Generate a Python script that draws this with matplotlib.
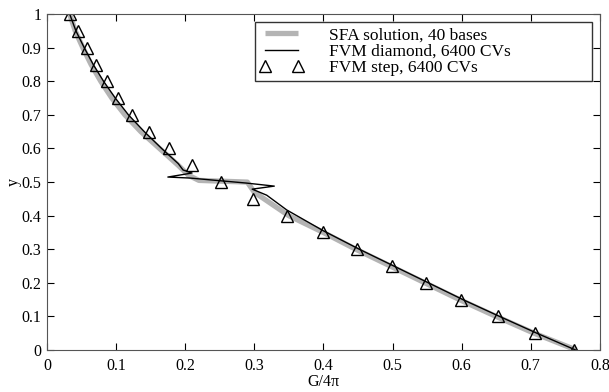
import matplotlib
matplotlib.use("Agg")
import matplotlib.pyplot as plt

plt.rcParams['font.family'] = ['Liberation Serif', 'DejaVu Serif']

# SFA solution, 40 bases (smooth reference)
sfa_x = [0.033, 0.041, 0.052, 0.064, 0.078, 0.094, 0.113, 0.136, 0.163, 0.190, 0.205, 0.220,
         0.290, 0.300, 0.350, 0.400, 0.447, 0.497, 0.547, 0.597, 0.650, 0.705, 0.766]
sfa_y = [1.00, 0.95, 0.90, 0.85, 0.80, 0.75, 0.70, 0.65, 0.60, 0.55, 0.52, 0.505,
         0.500, 0.47, 0.40, 0.35, 0.30, 0.25, 0.20, 0.15, 0.10, 0.05, 0.00]

# FVM diamond, 6400 CVs (with overshoot near y = 0.5)
dia_x = [0.033, 0.042, 0.054, 0.067, 0.082, 0.099, 0.118, 0.141, 0.166, 0.190, 0.197, 0.210,
         0.175, 0.207, 0.289, 0.329, 0.297, 0.318, 0.347, 0.400, 0.452, 0.502, 0.552,
         0.602, 0.655, 0.709, 0.765]
dia_y = [1.00, 0.95, 0.90, 0.85, 0.80, 0.75, 0.70, 0.65, 0.60, 0.555, 0.536, 0.527,
         0.515, 0.512, 0.497, 0.488, 0.479, 0.461, 0.417, 0.355, 0.30, 0.25, 0.20,
         0.15, 0.10, 0.05, 0.00]

# FVM step, 6400 CVs
step_x = [0.033, 0.045, 0.058, 0.071, 0.087, 0.103, 0.123, 0.148, 0.177, 0.210, 0.252,
          0.298, 0.347, 0.399, 0.449, 0.499, 0.548, 0.599, 0.652, 0.706, 0.762]
step_y = [1.00, 0.95, 0.90, 0.85, 0.80, 0.75, 0.70, 0.65, 0.60, 0.55, 0.50,
          0.45, 0.40, 0.35, 0.30, 0.25, 0.20, 0.15, 0.10, 0.05, 0.00]

fig = plt.figure(figsize=(6.09, 3.92), dpi=100)
ax = fig.add_axes([0.077, 0.107, 0.908, 0.857])

ax.plot(sfa_x, sfa_y, color='#b4b4b4', lw=3.8, solid_capstyle='butt',
        label='SFA solution, 40 bases')
ax.plot(dia_x, dia_y, color='black', lw=1.0, label='FVM diamond, 6400 CVs')
ax.plot(step_x, step_y, ls='none', marker='^', ms=8, mfc='none', mec='black',
        mew=1.0, label='FVM step, 6400 CVs')

ax.set_xlim(0, 0.8)
ax.set_ylim(0, 1)
ax.set_xticks([i / 10 for i in range(9)])
ax.set_xticklabels(['0', '0.1', '0.2', '0.3', '0.4', '0.5', '0.6', '0.7', '0.8'])
ax.set_yticks([i / 10 for i in range(11)])
ax.set_yticklabels(['0', '0.1', '0.2', '0.3', '0.4', '0.5', '0.6', '0.7', '0.8', '0.9', '1'])
ax.tick_params(direction='in', top=True, right=True, labelsize=11.5, length=5)
ax.tick_params(axis='x', pad=6)
ax.tick_params(axis='y', pad=4)
ax.set_xlabel('G/4π', fontsize=11.5, labelpad=0)
ax.set_ylabel('y', fontsize=11.5, labelpad=0)
for sp in ax.spines.values():
    sp.set_color('#555555')

leg = ax.legend(loc='upper left', bbox_to_anchor=(0.376, 0.81, 0.61, 0.166),
                mode='expand', fontsize=12.5, frameon=True, fancybox=False,
                edgecolor='black', numpoints=2, handlelength=2.5, borderpad=0.3,
                labelspacing=0.0, handletextpad=1.5, borderaxespad=0)
leg.get_frame().set_linewidth(1.0)

fig.savefig('out.png', dpi=100)
